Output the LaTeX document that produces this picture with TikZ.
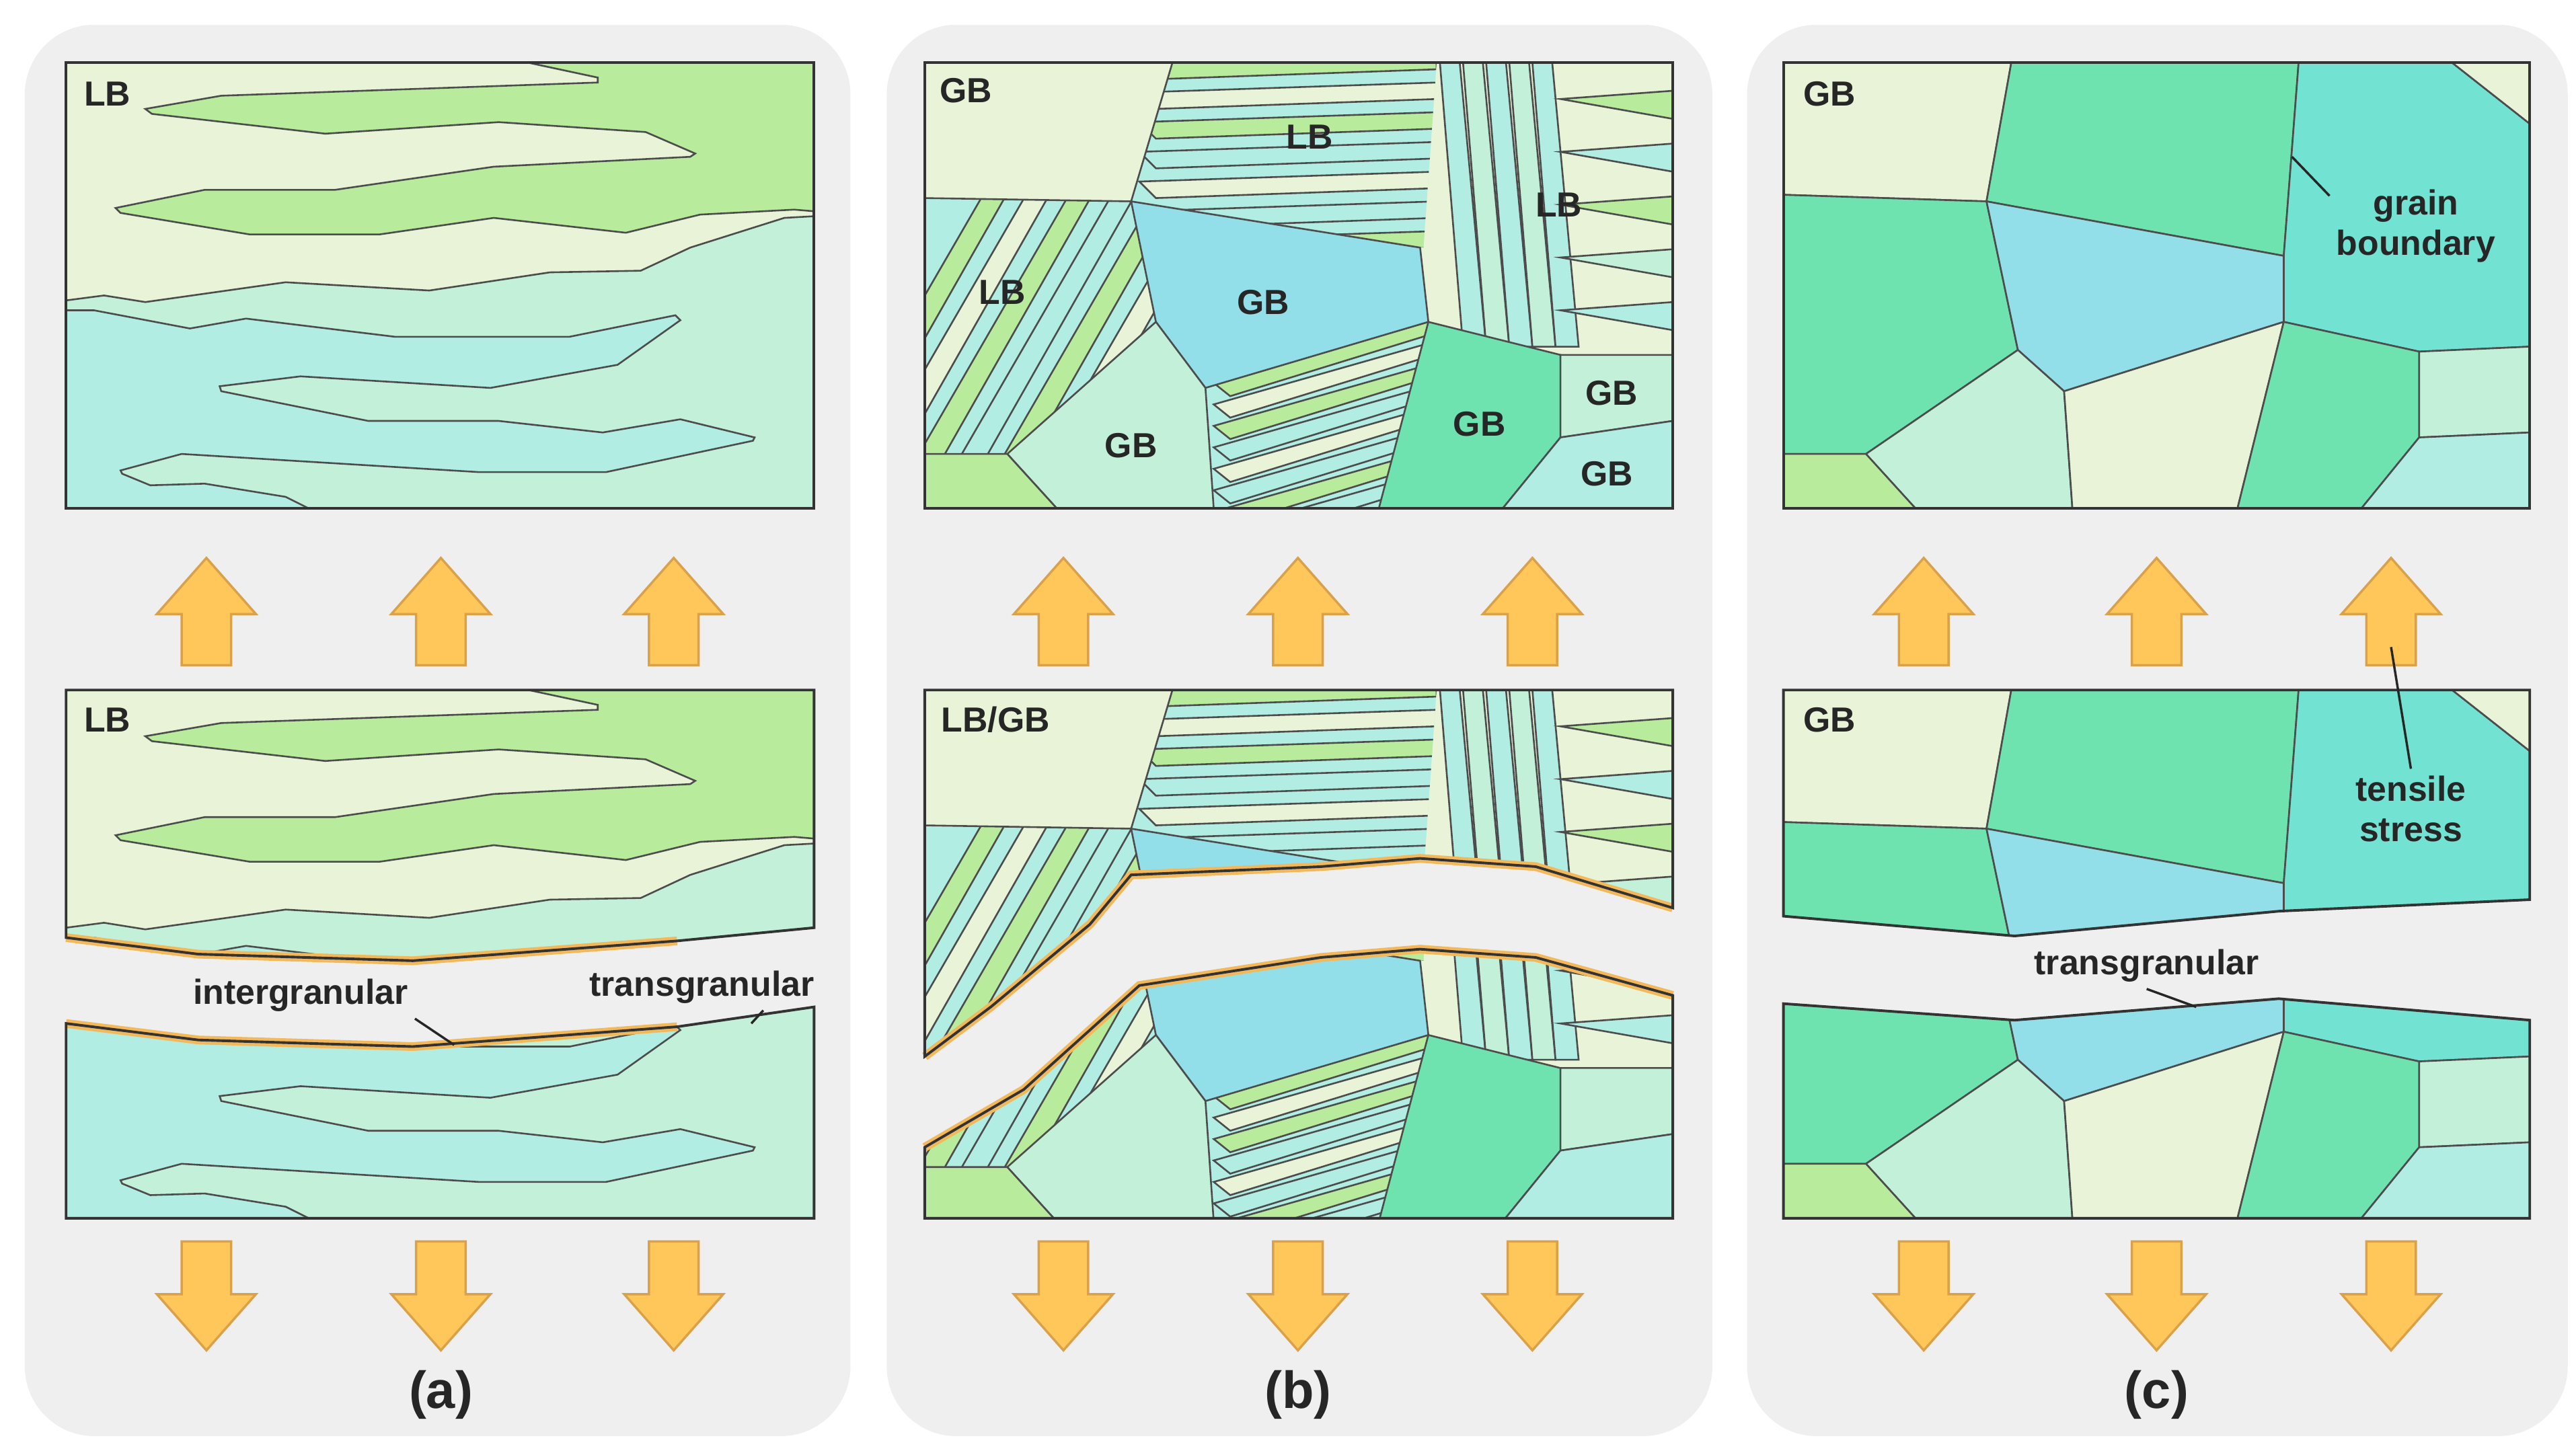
\documentclass[tikz,border=0pt]{standalone}
\usepackage{fontspec}
\setmainfont{Liberation Sans}
\usetikzlibrary{positioning}
\definecolor{panelbg}{HTML}{EFEFEF}
\definecolor{cream}{HTML}{E8F3D8}
\definecolor{grn}{HTML}{B8EC9C}
\definecolor{mint}{HTML}{C3F0D8}
\definecolor{aqua}{HTML}{B2EDE3}
\definecolor{blu}{HTML}{92DFE9}
\definecolor{teal}{HTML}{72E2D2}
\definecolor{jade}{HTML}{6EE3B0}
\definecolor{loadc}{HTML}{FFC65A}
\definecolor{loadd}{HTML}{D9A24A}
\definecolor{crackc}{HTML}{F2B85A}
\tikzset{
  grain/.style={draw=black!70,line width=0.3pt},
  box/.style={draw=black!80,line width=0.45pt},
  lbl/.style={font=\fontsize{6}{7}\selectfont\bfseries,text=black!85,inner sep=1pt},
  caption/.style={font=\fontsize{9}{10}\selectfont\bfseries,text=black!85},
  lead/.style={draw=black!85,line width=0.4pt},
  crackhl/.style={draw=crackc,line width=1.5pt},
}
% fat load arrows
\newcommand\uparr[1]{\filldraw[fill=loadc,draw=loadd,line width=0.4pt] (#1,338) -- (#1+30,372) -- (#1+15,372) -- (#1+15,403) -- (#1-15,403) -- (#1-15,372) -- (#1-30,372) -- cycle;}
\newcommand\dnarr[1]{\filldraw[fill=loadc,draw=loadd,line width=0.4pt] (#1,818) -- (#1+30,784) -- (#1+15,784) -- (#1+15,752) -- (#1-15,752) -- (#1-15,784) -- (#1-30,784) -- cycle;}
% grain maps
\newcommand\grainsA{%
  \fill[cream] (40,38) rectangle (493,308);
  \filldraw[grain,fill=grn] (320,38) -- (362,47) -- (362,50) -- (134,58) -- (88,66) -- (92,69) -- (197,81) -- (302,74) -- (391,80) -- (421,93) -- (418,95) -- (299,101) -- (203,115) -- (124,115) -- (70,126) -- (73,129) -- (151,142) -- (230,142) -- (299,132) -- (379,141) -- (424,130) -- (481,127) -- (493,128) -- (493,38) -- cycle;
  \filldraw[grain,fill=mint] (40,182) -- (63,179) -- (88,183) -- (173,171) -- (260,176) -- (333,165) -- (388,164) -- (418,150) -- (475,132) -- (493,131) -- (493,308) -- (40,308) -- cycle;
  \filldraw[grain,fill=aqua] (40,188) -- (57,188) -- (115,199) -- (149,193) -- (239,204) -- (345,204) -- (409,191) -- (412,194) -- (374,221) -- (297,235) -- (182,228) -- (133,234) -- (134,237) -- (223,255) -- (302,255) -- (365,262) -- (412,254) -- (457,265) -- (456,267) -- (367,286) -- (290,286) -- (110,275) -- (73,285) -- (74,287) -- (91,294) -- (124,293) -- (173,301) -- (187,308) -- (40,308) -- cycle;
}
\newcommand\grainsB{%
  \fill[cream] (560,38) rectangle (1013,308);
  % left lamellae
  \begin{scope}
    \clip (560,120) -- (685,122) -- (700,195) -- (610,275) -- (560,275) -- cycle;
    \fill[aqua] (560,110) rectangle (700,280);
    \foreach \k/\c in {0/grn,1/cream,2/grn,3/aqua,4/grn,5/cream,6/aqua,7/grn,8/aqua,9/cream}
      \filldraw[grain,fill=\c] (490+\k*26,300) -- (600+\k*26,110) -- (614+\k*26,110) -- (506+\k*26,300) -- cycle;
  \end{scope}
  % top middle lamellae
  \begin{scope}
    \clip (710,38) -- (870,38) -- (862,150) -- (685,122) -- cycle;
    \fill[aqua] (680,38) rectangle (870,160);
    \foreach \k/\c in {0/grn,1/cream,2/grn,3/aqua,4/cream,5/aqua,6/grn}
      \filldraw[grain,fill=\c] (690,38+\k*18) -- (870,32+\k*18) -- (870,42+\k*18) -- (700,48+\k*18) -- cycle;
  \end{scope}
  % right lamellae
  \begin{scope}
    \clip (870,38) -- (1013,38) -- (1013,215) -- (945,215) -- (865,195) -- cycle;
    \fill[cream] (860,38) rectangle (1013,220);
    \foreach \k/\c in {0/aqua,1/mint,2/aqua,3/mint,4/aqua}
      \filldraw[grain,fill=\c] (872+\k*14,38) -- (884+\k*14,38) -- (900+\k*14,210) -- (886+\k*14,210) -- cycle;
    \foreach \k/\c in {0/grn,1/aqua,2/grn,3/mint,4/aqua}
      \filldraw[grain,fill=\c] (945,60+\k*32) -- (1013,55+\k*32) -- (1013,72+\k*32) -- cycle;
  \end{scope}
  % bottom middle lamellae
  \begin{scope}
    \clip (730,235) -- (865,195) -- (835,308) -- (735,308) -- cycle;
    \fill[aqua] (725,190) rectangle (870,310);
    \foreach \k/\c in {0/grn,1/cream,2/grn,3/aqua,4/cream,5/aqua,6/grn,7/aqua}
      \filldraw[grain,fill=\c] (735,232+\k*13) -- (865,195+\k*13) -- (865,203+\k*13) -- (745,240+\k*13) -- cycle;
  \end{scope}
  \filldraw[grain,fill=blu] (685,122) -- (860,150) -- (865,195) -- (730,235) -- (700,195) -- cycle;
  \filldraw[grain,fill=mint] (610,275) -- (700,195) -- (730,235) -- (735,308) -- (640,308) -- cycle;
  \filldraw[grain,fill=grn] (560,275) -- (610,275) -- (640,308) -- (560,308) -- cycle;
  \filldraw[grain,fill=jade] (865,195) -- (945,215) -- (945,265) -- (910,308) -- (835,308) -- cycle;
  \filldraw[grain,fill=mint] (945,215) -- (1013,215) -- (1013,255) -- (945,265) -- cycle;
  \filldraw[grain,fill=aqua] (945,265) -- (1013,255) -- (1013,308) -- (910,308) -- cycle;
  \draw[grain] (710,38) -- (685,122) (560,120) -- (685,122);
}
\newcommand\grainsC{%
  \filldraw[grain,fill=cream] (1080,38) -- (1218,38) -- (1203,122) -- (1080,118) -- cycle;
  \filldraw[grain,fill=jade] (1218,38) -- (1392,38) -- (1383,155) -- (1203,122) -- cycle;
  \filldraw[grain,fill=teal] (1392,38) -- (1485,38) -- (1532,75) -- (1532,210) -- (1465,213) -- (1383,195) -- (1383,155) -- cycle;
  \filldraw[grain,fill=cream] (1485,38) -- (1532,38) -- (1532,75) -- cycle;
  \filldraw[grain,fill=jade] (1080,118) -- (1203,122) -- (1222,212) -- (1130,275) -- (1080,275) -- cycle;
  \filldraw[grain,fill=blu] (1203,122) -- (1383,155) -- (1383,195) -- (1250,237) -- (1222,212) -- cycle;
  \filldraw[grain,fill=mint] (1130,275) -- (1222,212) -- (1250,237) -- (1255,308) -- (1160,308) -- cycle;
  \filldraw[grain,fill=grn] (1080,275) -- (1130,275) -- (1160,308) -- (1080,308) -- cycle;
  \filldraw[grain,fill=cream] (1250,237) -- (1383,195) -- (1355,308) -- (1255,308) -- cycle;
  \filldraw[grain,fill=jade] (1383,195) -- (1465,213) -- (1465,265) -- (1430,308) -- (1355,308) -- cycle;
  \filldraw[grain,fill=mint] (1465,213) -- (1532,210) -- (1532,262) -- (1465,265) -- cycle;
  \filldraw[grain,fill=aqua] (1465,265) -- (1532,262) -- (1532,308) -- (1430,308) -- cycle;
}
\begin{document}
\begin{tikzpicture}[x=0.01cm,y=-0.01cm]
\useasboundingbox (0,0) rectangle (1560,880);
% panels
\fill[panelbg,rounded corners=12] (15,15) rectangle (515,870);
\fill[panelbg,rounded corners=12] (537,15) rectangle (1037,870);
\fill[panelbg,rounded corners=12] (1058,15) rectangle (1555,870);

% ---- (a)
\grainsA
\draw[box] (40,38) rectangle (493,308);
\begin{scope}
  \clip (40,418) -- (493,418) -- (493,562) -- (410,570) -- (250,582) -- (120,578) -- (40,568) -- cycle;
  \begin{scope}[shift={(0,380)}]\grainsA\end{scope}
\end{scope}
\begin{scope}
  \clip (40,620) -- (120,630) -- (250,634) -- (410,622) -- (493,610) -- (493,738) -- (40,738) -- cycle;
  \begin{scope}[shift={(0,430)}]\grainsA\end{scope}
\end{scope}
\draw[crackhl] (40,568) -- (120,578) -- (250,582) -- (410,570);
\draw[crackhl] (40,620) -- (120,630) -- (250,634) -- (410,622);
\draw[box] (40,568) -- (40,418) -- (493,418) -- (493,562) -- (410,570) -- (250,582) -- (120,578) -- cycle;
\draw[box] (40,620) -- (120,630) -- (250,634) -- (410,622) -- (493,610) -- (493,738) -- (40,738) -- cycle;
\node[lbl] (lbA1) at (65,57) {LB};
\node[lbl] (lbA2) at (65,436) {LB};
\node[lbl] (inter) at (182,603) {intergranular};
\node[lbl] (transA) at (425,598) {transgranular};
\coordinate (interP) at (275,633);
\coordinate (transP) at (455,620);
\draw[lead] (inter.south east) -- (interP);
\draw[lead] (transA.south east) ++(-35,0) -- (transP);
\foreach \x in {125,267,408} {\uparr{\x}\dnarr{\x}}
\node[caption] (capA) at (267,845) {(a)};

% ---- (b)
\grainsB
\draw[box] (560,38) rectangle (1013,308);
\begin{scope}
  \clip (560,418) -- (1013,418) -- (1013,550) -- (930,525) -- (860,520) -- (800,525) -- (685,530) -- (660,560) -- (600,610) -- (560,640) -- cycle;
  \begin{scope}[shift={(0,380)}]\grainsB\end{scope}
\end{scope}
\begin{scope}
  \clip (560,695) -- (620,660) -- (690,597) -- (800,580) -- (860,575) -- (930,580) -- (1013,603) -- (1013,738) -- (560,738) -- cycle;
  \begin{scope}[shift={(0,432)}]\grainsB\end{scope}
\end{scope}
\draw[crackhl] (560,640) -- (600,610) -- (660,560) -- (685,530) -- (800,525) -- (860,520) -- (930,525) -- (1013,550);
\draw[crackhl] (560,695) -- (620,660) -- (690,597) -- (800,580) -- (860,575) -- (930,580) -- (1013,603);
\draw[box] (560,640) -- (560,418) -- (1013,418) -- (1013,550) -- (930,525) -- (860,520) -- (800,525) -- (685,530) -- (660,560) -- (600,610) -- cycle;
\draw[box] (560,695) -- (620,660) -- (690,597) -- (800,580) -- (860,575) -- (930,580) -- (1013,603) -- (1013,738) -- (560,738) -- cycle;
\node[lbl] (gbB0) at (585,55) {GB};
\node[lbl] (lbB1) at (793,83) {LB};
\node[lbl] (lbB2) at (944,124) {LB};
\node[lbl] (lbB3) at (607,177) {LB};
\node[lbl] (gbB1) at (765,183) {GB};
\node[lbl] (gbB2) at (685,270) {GB};
\node[lbl] (gbB3) at (896,257) {GB};
\node[lbl] (gbB4) at (976,238) {GB};
\node[lbl] (gbB5) at (973,287) {GB};
\node[lbl] (lbgb) at (603,436) {LB/GB};
\foreach \x in {644,786,928} {\uparr{\x}\dnarr{\x}}
\node[caption] (capB) at (786,845) {(b)};

% ---- (c)
\grainsC
\draw[box] (1080,38) rectangle (1532,308);
\begin{scope}
  \clip (1080,418) -- (1532,418) -- (1532,545) -- (1380,552) -- (1220,567) -- (1080,555) -- cycle;
  \begin{scope}[shift={(0,380)}]\grainsC\end{scope}
\end{scope}
\begin{scope}
  \clip (1080,608) -- (1220,618) -- (1380,605) -- (1532,618) -- (1532,738) -- (1080,738) -- cycle;
  \begin{scope}[shift={(0,430)}]\grainsC\end{scope}
\end{scope}
\draw[box] (1080,555) -- (1080,418) -- (1532,418) -- (1532,545) -- (1380,552) -- (1220,567) -- cycle;
\draw[box] (1080,608) -- (1220,618) -- (1380,605) -- (1532,618) -- (1532,738) -- (1080,738) -- cycle;
\node[lbl] (gbC1) at (1108,57) {GB};
\node[lbl] (gbC2) at (1108,436) {GB};
\node[lbl,align=center] (gbnd) at (1463,137) {grain\\boundary};
\coordinate (gbndP) at (1388,95);
\draw[lead] (gbnd.north west) ++(0,8) -- (gbndP);
\foreach \x in {1165,1306,1448} {\uparr{\x}\dnarr{\x}}
\node[lbl,align=center] (tens) at (1460,490) {tensile\\stress};
\coordinate (tensP) at (1448,392);
\draw[lead] (tens.north) -- (tensP);
\node[lbl] (transC) at (1300,585) {transgranular};
\coordinate (transCP) at (1330,610);
\draw[lead] (transC.south) -- (transCP);
\node[caption] (capC) at (1306,845) {(c)};
\end{tikzpicture}
\end{document}
